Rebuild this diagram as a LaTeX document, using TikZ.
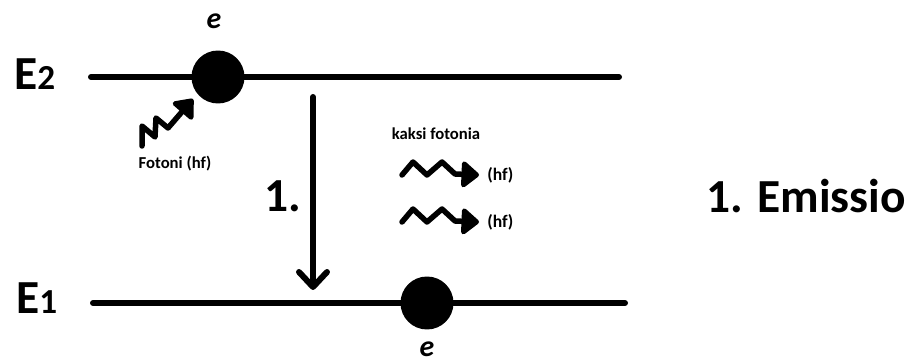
\documentclass[tikz,border=0pt]{standalone}
\usepackage{fontspec}
\setmainfont{Carlito}
\usetikzlibrary{arrows.meta}
\begin{document}
\begin{tikzpicture}[x=0.02cm,y=-0.02cm,
  level/.style={line width=0.12cm,line cap=round},
  electron/.style={circle,fill=black,minimum size=1.06cm,inner sep=0pt},
  photon/.style={line width=0.11cm,line join=round,line cap=round,
    -{Triangle[round,length=0.38cm,width=0.6cm]}},
  biglbl/.style={inner sep=0pt,font=\bfseries\fontsize{27}{31}\selectfont},
  smalllbl/.style={inner sep=0pt,font=\bfseries\fontsize{9.5}{11}\selectfont},
  elbl/.style={inner sep=0pt,font=\bfseries\itshape\fontsize{17}{20}\selectfont}]
  \useasboundingbox (0,0) rectangle (910,361);
  % energy levels
  \coordinate (e2l) at (91,77);
  \coordinate (e2r) at (619,77);
  \coordinate (e1l) at (93,303);
  \coordinate (e1r) at (625,303);
  \draw [level] (e2l) -- (e2r);
  \draw [level] (e1l) -- (e1r);
  \node [biglbl,anchor=base west] (labE2) at (14,90) {E{\fontsize{20}{23}\selectfont 2}};
  \node [biglbl,anchor=base west] (labE1) at (16,314) {E{\fontsize{20}{23}\selectfont 1}};
  % electrons
  \node [electron] (eltop) at (218,77) {};
  \node [electron] (elbot) at (427,303) {};
  \node [elbl] (etop) at (214,21) {e};
  \node [elbl] (ebot) at (427,349) {e};
  % incoming photon
  \coordinate (phin) at (142,146);
  \coordinate (phtip) at (193,99);
  \draw [photon] (phin) -- (142,126) -- (155,137) -- (156,118) -- (168,128) -- (phtip);
  \node [smalllbl] (fotoni) at (175,164) {Fotoni (hf)};
  % transition
  \coordinate (drtop) at (313,97);
  \coordinate (drbot) at (313,290);
  \draw [line width=0.12cm,line cap=round,
    -{Straight Barb[round,length=0.3cm,width=0.56cm]}] (drtop) -- (drbot);
  \node [biglbl,anchor=base east] (step1) at (302,212) {1.};
  % outgoing photons
  \node [smalllbl] (kaksi) at (436,134) {kaksi fotonia};
  \foreach \yy/\nm in {175/a,222/b}{
    \coordinate (ph\nm) at (402,\yy);
    \coordinate (pt\nm) at (479,\yy);
    \draw [photon] (ph\nm) -- ++(11,-13) -- ++(14,13) -- ++(15,-13) -- ++(13,12) -- (pt\nm);
    \node [smalllbl,font=\bfseries\fontsize{10}{12}\selectfont,anchor=west] (hf\nm) at (487,\yy) {(hf)};
  }
  \node [biglbl,anchor=base west] (emissio) at (706,213) {1. Emissio};
\end{tikzpicture}
\end{document}
